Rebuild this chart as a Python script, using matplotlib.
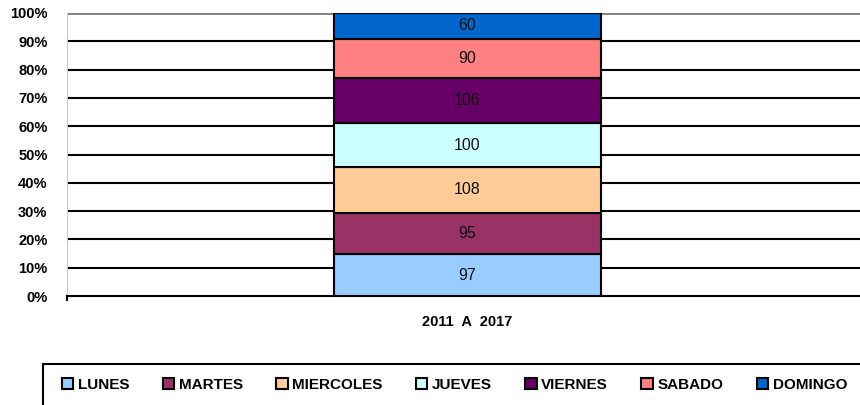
import matplotlib
matplotlib.use("Agg")
from matplotlib import pyplot as plt
from matplotlib.patches import Rectangle
import numpy as np

plt.rcParams['font.family'] = ['Liberation Sans', 'DejaVu Sans']

# data
categoria = "2011  A  2017"
dias = ["LUNES", "MARTES", "MIERCOLES", "JUEVES", "VIERNES", "SABADO", "DOMINGO"]
valores = [97, 95, 108, 100, 106, 90, 60]
colores = ["#99ccff", "#993366", "#ffcc99", "#ccffff", "#660066", "#ff8080", "#0066cc"]

fig = plt.figure(figsize=(8.6, 4.05), dpi=100)
ax = fig.add_axes([67/860, 109/405, 793/860, 283/405])

total = float(sum(valores))
frac = np.array(valores) / total
bottom = 0.0
x_bar = 0.505
for dia, v, f, c in zip(dias, valores, frac, colores):
    ax.bar(x_bar, f, width=0.337, bottom=bottom, color=c, edgecolor="black",
           linewidth=1.5, label=dia, zorder=3)
    ax.text(x_bar, bottom + f / 2, str(v), ha="center", va="center",
            fontsize=11.5, color="#111111", zorder=4)
    bottom += f

ax.set_xlim(0, 1)
ax.set_ylim(0, 1)
yt = np.linspace(0, 1, 11)
ax.set_yticks(yt)
ax.set_yticklabels(["%d%%" % round(t * 100) for t in yt], fontsize=10.5, fontweight="bold")
for t in yt[1:-1]:
    ax.axhline(t, color="black", lw=1.5, zorder=1)
ax.axhline(1.0, color="#808080", lw=2, zorder=1)
ax.set_xticks([x_bar])
ax.set_xticklabels([categoria], fontsize=10.5, fontweight="bold")
ax.tick_params(axis="x", length=0, pad=14)
ax.tick_params(axis="y", length=0, pad=14)
for s in ["top", "right"]:
    ax.spines[s].set_visible(False)
ax.spines["left"].set_color("#c8c8c8")
ax.spines["left"].set_linewidth(0.8)
ax.spines["bottom"].set_color("black")
ax.spines["bottom"].set_linewidth(1.5)
ax.plot([0, 0], [0, -0.015], color="black", lw=1.5, clip_on=False)

# legend
handles, labels = ax.get_legend_handles_labels()
leg = fig.legend(handles, labels, loc="center left", ncol=7, frameon=False,
                 bbox_to_anchor=(48/860, 1 - 385/405), handlelength=0.75,
                 handleheight=0.75, handletextpad=0.3, columnspacing=2.18,
                 prop={"size": 11, "weight": "bold"})
for h in leg.legend_handles:
    h.set_edgecolor("black")
    h.set_linewidth(1.5)
fig.add_artist(Rectangle((43/860, -0.1), 1.0, (1 - 364/405) + 0.1,
                         transform=fig.transFigure, fill=False, edgecolor="black", lw=1.5))

fig.savefig("out.png", dpi=100)
